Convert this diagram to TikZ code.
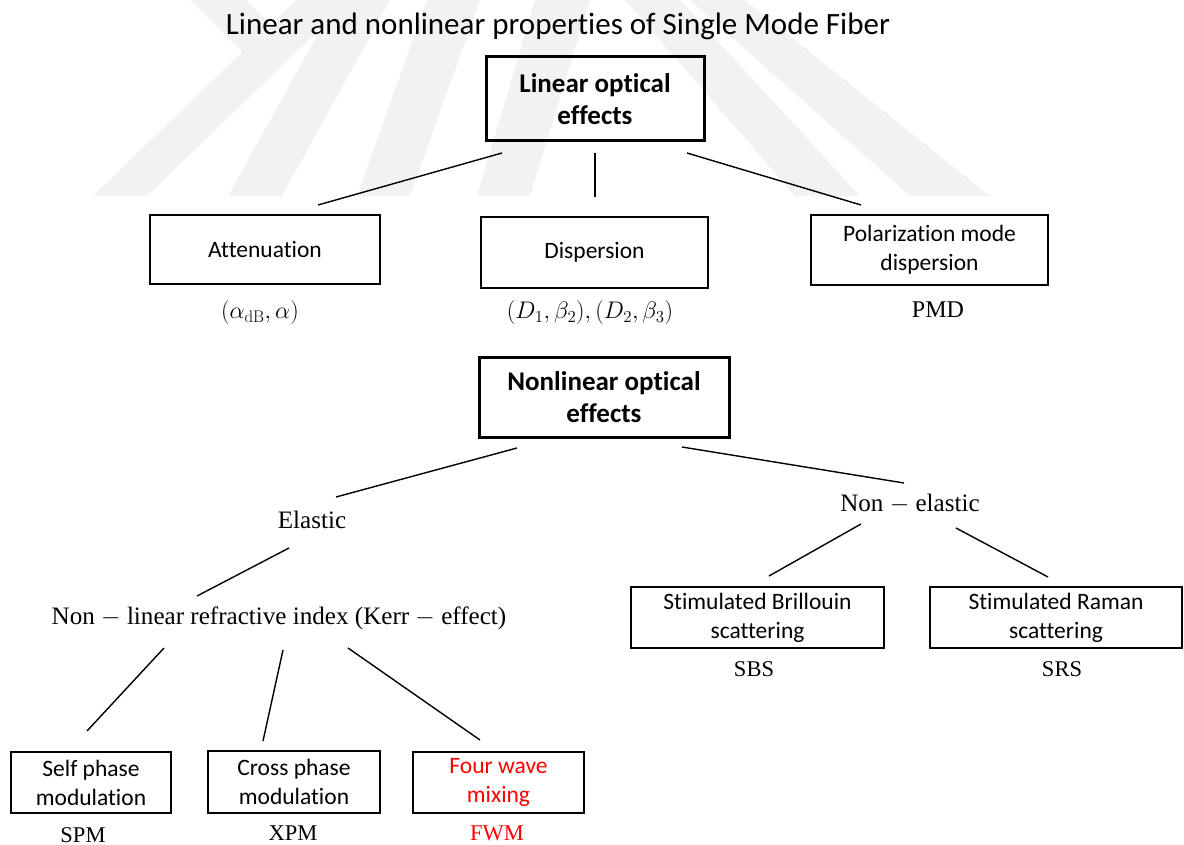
\RequirePackage{fix-cm}
\documentclass[tikz,border=0pt]{standalone}
\usepackage{fontspec}
\newfontfamily\calibri[Ligatures=NoCommon]{Carlito}
\newfontfamily\cambria[Ligatures=NoCommon]{Liberation Serif}
\tikzset{
  every node/.style={inner sep=0pt, outer sep=0pt},
  headbox/.style={draw, line width=3pt, align=center,
    font=\calibri\bfseries\fontsize{27}{32}\selectfont},
  effbox/.style={draw, line width=1.3pt, align=center,
    font=\calibri\fontsize{23.5}{29}\selectfont},
  sym/.style={font=\fontsize{24}{28}\selectfont},
  word/.style={font=\cambria\fontsize{25.1}{30}\selectfont},
  abbr/.style={font=\cambria\fontsize{22.5}{26}\selectfont},
  link/.style={line width=1.4pt},
  emblem/.style={fill=black!5}
}
\begin{document}
\begin{tikzpicture}[x=1pt,y=-1pt]
\useasboundingbox (0,0) rectangle (1184,845);

% light striped emblem behind the upper part
\fill[emblem] (93,196) -- (147,196) -- (350,0) -- (296,0) -- cycle;
\fill[emblem] (190,0) -- (246,0) -- (290,44) -- (242,52) -- cycle;
\fill[emblem] (228,196) -- (282,196) -- (390,0) -- (337,0) -- cycle;
\fill[emblem] (357,196) -- (410,196) -- (480,0) -- (427,0) -- cycle;
\fill[emblem] (477,196) -- (530,196) -- (590,0) -- (535,0) -- cycle;
\fill[emblem] (625,0) -- (680,0) -- (860,196) -- (795,196) -- cycle;
\fill[emblem] (690,0) -- (745,0) -- (990,196) -- (910,196) -- cycle;

% title
\node[font=\calibri\fontsize{31}{36}\selectfont] (title) at (558,26)
  {Linear and nonlinear properties of Single Mode Fiber};

% linear branch
\node[headbox, minimum width=218, minimum height=84] (lin) at (595,99)
  {Linear optical\\effects};
\node[effbox, minimum width=230, minimum height=69] (att) at (265,249.5) {Attenuation};
\node[effbox, minimum width=227, minimum height=71] (dis) at (594.5,252.5) {Dispersion};
\node[effbox, minimum width=237, minimum height=70] (pmd) at (929.5,250)
  {Polarization mode\\dispersion};
\node[sym] (attl) at (260,313) {$(\alpha_{\mathrm{dB}},\alpha)$};
\node[sym] (disl) at (590,313) {$(D_1,\beta_2),(D_2,\beta_3)$};
\node[abbr, font=\cambria\fontsize{24}{28}\selectfont] (pmdl) at (938,310) {PMD};

\draw[link] ([shift={(-93,54)}]lin.center) -- ([shift={(53,-44.5)}]att.center);
\draw[link] ([shift={(0,54)}]lin.center) -- ([shift={(0.5,-55.5)}]dis.center);
\draw[link] ([shift={(92,54)}]lin.center) -- ([shift={(-68.5,-45)}]pmd.center);

% nonlinear branch
\node[headbox, minimum width=250, minimum height=80] (nlin) at (604,397)
  {Nonlinear optical\\effects};
\node[word] (ela) at (312,520) {Elastic};
\node[word] (nel) at (910,504) {Non $-$ elastic};
\node[word] (kerr) at (279,618) {Non $-$ linear refractive index (Kerr $-$ effect)};

\draw[link] ([shift={(-87,51)}]nlin.center) -- ([shift={(24,-23)}]ela.center);
\draw[link] ([shift={(78,50)}]nlin.center) -- ([shift={(-6,-21)}]nel.center);
\draw[link] ([shift={(-23,28)}]ela.center) -- ([shift={(-82,-22)}]kerr.center);

% inelastic scattering
\node[effbox, minimum width=253, minimum height=61] (sbs) at (757.5,617.5)
  {Stimulated Brillouin\\scattering};
\node[effbox, minimum width=252, minimum height=61] (srs) at (1056,617.5)
  {Stimulated Raman\\scattering};
\node[abbr] (sbsl) at (754,669) {SBS};
\node[abbr] (srsl) at (1062,669) {SRS};
\draw[link] ([shift={(-49,20)}]nel.center) -- ([shift={(11.5,-41.5)}]sbs.center);
\draw[link] ([shift={(46,24)}]nel.center) -- ([shift={(-8,-40.5)}]srs.center);

% Kerr effects
\node[effbox, minimum width=160, minimum height=61] (spm) at (91,782.5)
  {Self phase\\modulation};
\node[effbox, minimum width=172, minimum height=62] (xpm) at (294,782)
  {Cross phase\\modulation};
\node[effbox, minimum width=171, minimum height=61, text=red] (fwm) at (498.5,782.5)
  {Four wave\\mixing};
\node[abbr] (spml) at (83,835) {SPM};
\node[abbr] (xpml) at (293,833) {XPM};
\node[abbr, text=red] (fwml) at (497,833) {FWM};
\draw[link] ([shift={(-115,30)}]kerr.center) -- ([shift={(-4,-51.5)}]spm.center);
\draw[link] ([shift={(4,32)}]kerr.center) -- ([shift={(-31,-41)}]xpm.center);
\draw[link] ([shift={(69,30)}]kerr.center) -- ([shift={(-18.5,-42.5)}]fwm.center);
\end{tikzpicture}
\end{document}
